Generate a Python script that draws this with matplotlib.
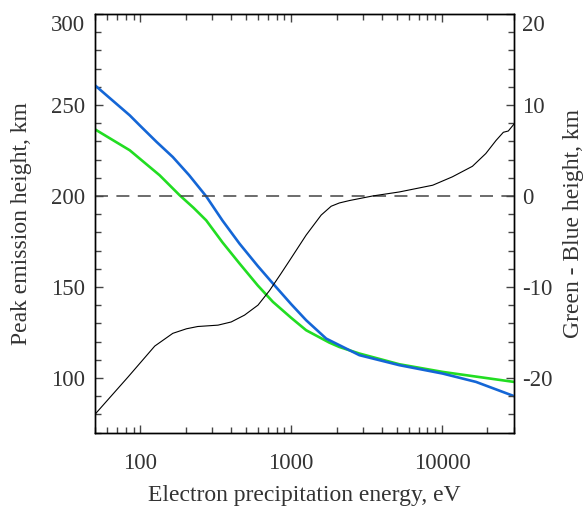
import matplotlib
matplotlib.use("Agg")
import matplotlib.pyplot as plt
from matplotlib.transforms import ScaledTranslation
from matplotlib.ticker import MultipleLocator, LogLocator, NullFormatter, FixedLocator, FixedFormatter

plt.rcParams['font.family'] = ['Liberation Serif', 'DejaVu Serif']
plt.rcParams['axes.unicode_minus'] = False

# Blue emission peak height (km)
blue_E = [50, 85, 99, 128, 164, 210, 273, 350, 454, 600, 756, 1000, 1256, 1706, 2085, 2830,
          5210, 10090, 16800, 30000]
blue_h = [260.8, 244.3, 238.8, 229.7, 221.4, 211.5, 199.8, 186.5, 173.8, 161.5, 151.9, 140.5,
          131.7, 121.6, 118.0, 112.5, 107.0, 102.4, 97.8, 90.0]

# Green emission peak height (km)
green_E = [50, 85, 99, 134, 182, 225, 273, 350, 454, 600, 756, 1000, 1256, 1790, 2085, 2830,
           5210, 10090, 30000]
green_h = [236.6, 225.1, 220.5, 211.4, 200.4, 193.5, 186.6, 174.5, 162.9, 150.8, 141.8, 133.0,
           126.2, 119.4, 117.0, 113.4, 107.5, 103.3, 97.8]

# Green - Blue height difference (km)
diff_E = [50, 82.8, 124.5, 164, 202, 240, 327, 400, 490, 602, 718, 850, 975, 1256, 1580, 1840,
          2085, 2440, 3470, 5210, 8670, 11700, 15900, 19500, 22800, 25500, 27500, 30000]
diff_v = [-24.0, -19.9, -16.5, -15.1, -14.6, -14.35, -14.2, -13.85, -13.1, -12.0, -10.4, -8.6,
          -7.1, -4.3, -2.1, -1.13, -0.77, -0.5, 0.0, 0.44, 1.18, 2.1, 3.26, 4.66, 6.1, 7.0,
          7.14, 7.9]

x_ticks = [100, 1000, 10000]
x_labels = ["100", "1000", "10000"]

txt = '#333333'
tickc = '#444444'

fig = plt.figure(figsize=(5.86, 5.08), dpi=100)
ax = fig.add_axes([95/586, 1 - 432.5/508, (514-95)/586, (432.5-14)/508])
ax2 = ax.twinx()

ax.plot(blue_E, blue_h, color='#1466d6', lw=1.9, zorder=3)
ax.plot(green_E, green_h, color='#22dd22', lw=1.9, zorder=2)
ax2.plot(diff_E, diff_v, color='black', lw=0.8, zorder=3)
ax2.axhline(0, color='#444444', lw=1.1, dashes=(8.5, 5.5), zorder=1)

ax.set_xscale('log')
ax.set_xlim(50, 30000)
ax.set_ylim(70, 300)
ax2.set_ylim(-26, 20)

ax.xaxis.set_major_locator(FixedLocator(x_ticks))
ax.xaxis.set_major_formatter(FixedFormatter(x_labels))
ax.xaxis.set_minor_locator(LogLocator(base=10, subs=range(2, 10)))
ax.xaxis.set_minor_formatter(NullFormatter())

ax.yaxis.set_major_locator(MultipleLocator(50))
ax.yaxis.set_minor_locator(MultipleLocator(10))
ax2.yaxis.set_major_locator(MultipleLocator(10))
ax2.yaxis.set_minor_locator(MultipleLocator(2))

ax.tick_params(axis='x', which='both', direction='in', top=True, bottom=True,
               colors=tickc, labelcolor=txt, labelsize=16.5, pad=15)
ax.tick_params(axis='y', which='both', direction='in', left=True, right=False,
               colors=tickc, labelcolor=txt, labelsize=16.5, pad=7)
ax2.tick_params(axis='y', which='both', direction='in', right=True,
                colors=tickc, labelcolor=txt, labelsize=16.5, pad=6)
for a in (ax, ax2):
    a.tick_params(which='major', length=6, width=1)
    a.tick_params(which='minor', length=4, width=1)
    for s in a.spines.values():
        s.set_color('black')
        s.set_linewidth(1.0)

ax.set_xlabel('Electron precipitation energy, eV', fontsize=17, color=txt,
              ha='center', va='center')
ax.set_ylabel('Peak emission height, km', fontsize=17, color=txt,
              ha='center', va='center')
ax2.set_ylabel('Green - Blue height, km', fontsize=17, color=txt,
               ha='center', va='center')

W = (514 - 95)
H = (432.5 - 14)
ax.xaxis.set_label_coords((304.5 - 95) / W, -(496 - 432.5) / H)
ax.yaxis.set_label_coords(-(95 - 22) / W, (432.5 - 224) / H)
ax2.yaxis.set_label_coords((573 - 95) / W, (432.5 - 224) / H)

# nudge the top-most tick labels down slightly, as in the reference
fig.canvas.draw()
shift = ScaledTranslation(0, -9 / 100, fig.dpi_scale_trans)
for axis_, top_txt in ((ax.yaxis, '300'), (ax2.yaxis, '20')):
    for t in axis_.get_major_ticks():
        for lab in (t.label1, t.label2):
            if lab.get_text() == top_txt:
                lab.set_transform(lab.get_transform() + shift)

fig.savefig('out.png', dpi=100)
